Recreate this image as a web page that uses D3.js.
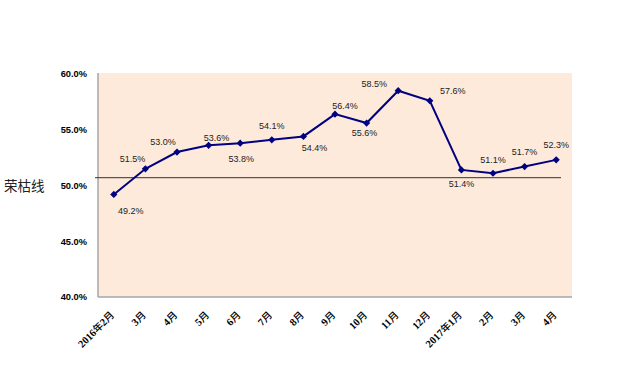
<!DOCTYPE html>
<html><head><meta charset="utf-8">
<script src="https://cdn.jsdelivr.net/npm/d3@7"></script>
<style>body{margin:0;background:#fff}</style>
</head><body>
<svg id="c" width="622" height="370"></svg>
<script>
const categories = ["2016年2月","3月","4月","5月","6月","7月","8月","9月","10月","11月","12月","2017年1月","2月","3月","4月"];
const values = [49.2,51.5,53.0,53.6,53.8,54.1,54.4,56.4,55.6,58.5,57.6,51.4,51.1,51.7,52.3];
const yTicks = [40,45,50,55,60];
const boomBustValue = 50.7;
const boomBustLabel = "荣枯线";
// label offsets (layout only)
const labelOffsets = [[17,16],[-13,-10],[-14,-10],[8,-8],[1,16],[0,-14],[11,11],[10,-8],[-2,10],[-24,-7],[23,-10],[0,14],[0,-13],[0,-15],[0,-15]];

const svg = d3.select("#c");
const L=98,R=572,T=73,B=297;
const x = d3.scalePoint().domain(d3.range(categories.length)).range([L,R]).padding(0.5);
const y = d3.scaleLinear().domain([40,60]).range([B,74]);

svg.append("rect").attr("x",L).attr("y",T).attr("width",R-L).attr("height",B-T).attr("fill","#fdeadb");
svg.append("line").attr("x1",L).attr("x2",L).attr("y1",T).attr("y2",B).attr("stroke","#a6a6a6").attr("stroke-width",1.5);
svg.append("line").attr("x1",L).attr("x2",R).attr("y1",B).attr("y2",B).attr("stroke","#a6a6a6").attr("stroke-width",1.5);

// y axis labels
const yAxis = d3.axisLeft(y).tickValues(yTicks).tickSize(0).tickPadding(11).tickFormat(d=>d.toFixed(1)+"%");
const ga = svg.append("g").attr("transform",`translate(${L},0)`).call(yAxis);
ga.select(".domain").remove();
ga.selectAll("text").attr("font-family","Liberation Sans, Arial, sans-serif").attr("font-weight","bold").attr("font-size",9.3).attr("fill","#000");

// x axis labels
const xAxis = d3.axisBottom(x).tickSize(0).tickFormat("");
const gx = svg.append("g").attr("transform",`translate(0,${B})`).call(xAxis);
gx.select(".domain").remove();
gx.selectAll(".tick text").each(function(i){
  const t = d3.select(this);
  t.text(null)
   .attr("font-family","Liberation Serif, serif").attr("font-size",10.5).attr("fill","#000")
   .attr("text-anchor","end").attr("dy","0.35em")
   .attr("transform","translate(-2,16) rotate(-45)").attr("y",0).attr("x",0);
  const parts = categories[i].match(/[0-9]+|[^0-9]+/g);
  parts.forEach(p=>{
    const isNum = /[0-9]/.test(p);
    t.append("tspan").text(p)
     .attr("font-family", isNum ? "Liberation Serif, serif" : "Noto Sans CJK SC, sans-serif")
     .attr("font-size", isNum ? 10.5 : 10)
     .style("font-weight", isNum ? "bold" : "500");
  });
});

// boom-bust line
svg.append("line").attr("x1",L-3).attr("x2",561).attr("y1",y(boomBustValue)).attr("y2",y(boomBustValue)).attr("stroke","#333").attr("stroke-width",1);
svg.append("text").attr("x",4).attr("y",y(50)+1).attr("dy","0.35em").attr("font-family","Noto Sans CJK SC, sans-serif").attr("font-size",13.5).attr("fill","#222").text(boomBustLabel);

// line
const line = d3.line().x((d,i)=>x(i)).y(d=>y(d));
svg.append("path").datum(values).attr("d",line).attr("fill","none").attr("stroke","#000080").attr("stroke-width",2);
svg.selectAll(".m").data(values).join("path").attr("class","m")
  .attr("d",d3.symbol(d3.symbolSquare,26)())
  .attr("transform",(d,i)=>`translate(${x(i)},${y(d)}) rotate(45)`).attr("fill","#000080");

svg.selectAll(".lbl").data(values).join("text").attr("class","lbl")
  .attr("x",(d,i)=>x(i)+labelOffsets[i][0]).attr("y",(d,i)=>y(d)+labelOffsets[i][1])
  .attr("dy","0.35em").attr("text-anchor","middle")
  .attr("font-family","Liberation Sans, Arial, sans-serif").attr("font-size",9).attr("fill","#222")
  .text(d=>d.toFixed(1)+"%");
</script>
</body></html>
